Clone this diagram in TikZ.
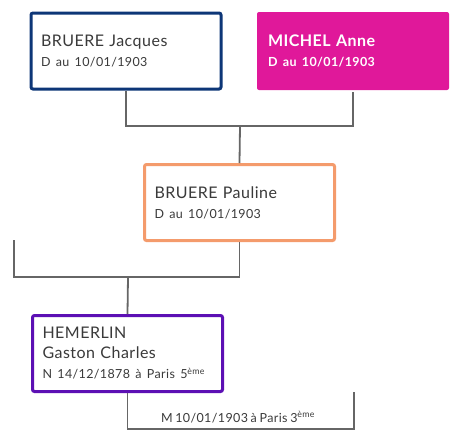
\documentclass[tikz,border=0pt]{standalone}
\usepackage{fontspec}
\setmainfont{Lato}[LetterSpace=3,WordSpace=0.75]
\definecolor{cblue}{HTML}{0D3677}
\definecolor{cmag}{HTML}{E0189A}
\definecolor{corange}{HTML}{F49B6C}
\definecolor{cpurple}{HTML}{5C10B4}
\definecolor{ctext}{HTML}{3A3A3A}
\definecolor{cline}{HTML}{666666}
\newcommand{\smtxt}{\fontsize{12.5}{20}\selectfont}
\begin{document}
\begin{tikzpicture}[x=1pt,y=-1pt,
  box/.style={rectangle, rounded corners=2pt, line width=3pt, fill=white,
    minimum width=190pt, minimum height=76pt, text width=170pt, align=left,
    inner sep=0pt, text=ctext, font=\fontsize{16}{20}\selectfont},
  conn/.style={draw=cline, line width=1.8pt}]
\useasboundingbox (0,0) rectangle (463,445);
\node[box, draw=cblue] (jacques) at (126,51)
  {BRUERE Jacques\\{\smtxt D au 10/01/1903}};
\node[box, draw=none, fill=cmag, minimum width=192pt, minimum height=78pt, text=white, font=\fontsize{16}{20}\selectfont\bfseries] (michel) at (353,51)
  {MICHEL Anne\\{\smtxt\bfseries D au 10/01/1903}};
\node[box, draw=corange] (pauline) at (239.5,202.5)
  {BRUERE Pauline\\{\smtxt D au 10/01/1903}};
\node[box, draw=cpurple] (hemerlin) at (127.5,353.5)
  {HEMERLIN\\Gaston Charles\\{\smtxt N 14/12/1878 à Paris 5\textsuperscript{ème}}};
\coordinate (j1) at (240,126);
\coordinate (lf) at (14,240);
\coordinate (j2) at (128,277);
\coordinate (rf) at (354,392);
\coordinate (j3) at (128,429);
\draw[conn] (jacques.south) |- (j1) -| (michel.south);
\draw[conn] (j1) -- (pauline.north);
\draw[conn] (lf) |- (j2);
\draw[conn] (pauline.south) |- (j2);
\draw[conn] (j2) -- (hemerlin.north);
\draw[conn] (hemerlin.south) |- (j3) -| (rf);
\node[font=\smtxt, text=ctext, inner sep=0pt] (mlabel) at (238,417) {M 10/01/1903 à Paris 3\textsuperscript{ème}};
\end{tikzpicture}
\end{document}
